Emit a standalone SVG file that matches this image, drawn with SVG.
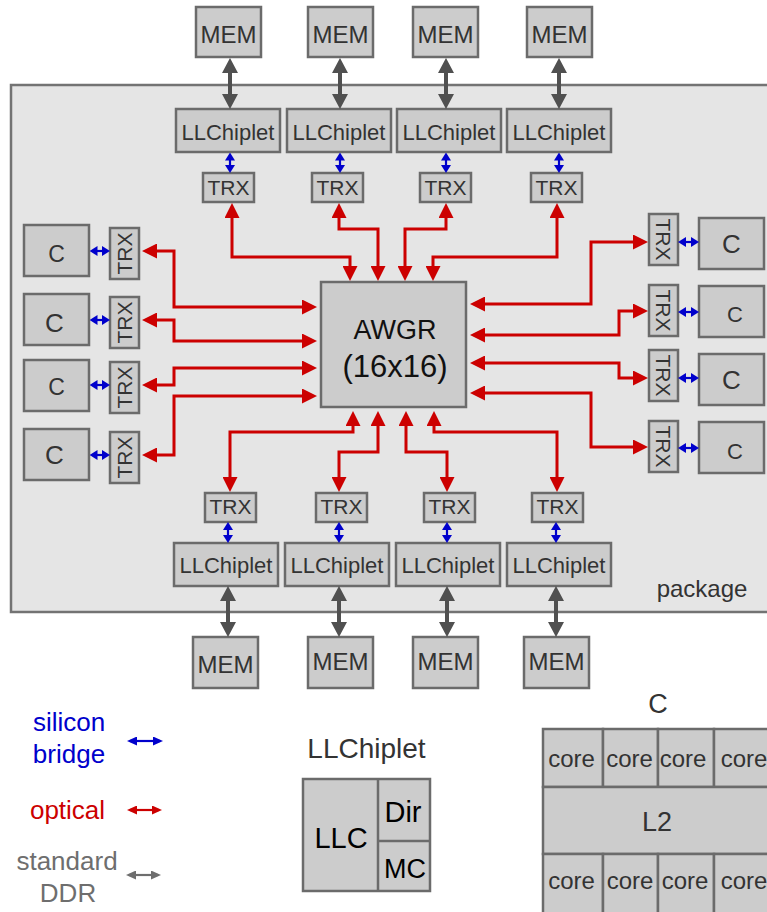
<svg xmlns="http://www.w3.org/2000/svg" width="767" height="912" viewBox="0 0 767 912">
<style>
.box{fill:#cccccc;stroke:#6b6b6b;stroke-width:2.5}
.pkg{fill:#e5e5e5;stroke:#737373;stroke-width:2.5}
text{font-family:"Liberation Sans",Arial,sans-serif;fill:#333;text-anchor:middle}
.t24{font-size:24px}.t22{font-size:22px}.t21{font-size:21px}
.red{fill:none;stroke:#cc0000;stroke-width:3;marker-start:url(#hr);marker-end:url(#hr)}
.gray{fill:none;stroke:#505050;stroke-width:4;marker-start:url(#hg);marker-end:url(#hg)}
.blue{fill:none;stroke:#0000cc;stroke-width:2.2;marker-start:url(#hb);marker-end:url(#hb)}
.lb{fill:none;stroke:#0000cc;stroke-width:2.2;marker-start:url(#lhb);marker-end:url(#lhb)}
.lr{fill:none;stroke:#cc0000;stroke-width:2.2;marker-start:url(#lhr);marker-end:url(#lhr)}
.lg{fill:none;stroke:#6e6e6e;stroke-width:2.2;marker-start:url(#lhg);marker-end:url(#lhg)}
</style>
<defs>
<marker id="hr" viewBox="0 0 15 15" refX="10" refY="7.5" markerWidth="15" markerHeight="15" markerUnits="userSpaceOnUse" orient="auto-start-reverse"><path d="M0,0 L15,7.5 L0,15 z" fill="#cc0000"/></marker>
<marker id="hg" viewBox="0 0 15 16" refX="9" refY="8" markerWidth="15" markerHeight="16" markerUnits="userSpaceOnUse" orient="auto-start-reverse"><path d="M0,0 L15,8 L0,16 z" fill="#505050"/></marker>
<marker id="hb" viewBox="0 0 8 10" refX="5" refY="5" markerWidth="8" markerHeight="10" markerUnits="userSpaceOnUse" orient="auto-start-reverse"><path d="M0,0 L8,5 L0,10 z" fill="#0000cc"/></marker>
<marker id="lhb" viewBox="0 0 10 9" refX="7" refY="4.5" markerWidth="10" markerHeight="9" markerUnits="userSpaceOnUse" orient="auto-start-reverse"><path d="M0,0 L10,4.5 L0,9 z" fill="#0000cc"/></marker>
<marker id="lhr" viewBox="0 0 10 9" refX="7" refY="4.5" markerWidth="10" markerHeight="9" markerUnits="userSpaceOnUse" orient="auto-start-reverse"><path d="M0,0 L10,4.5 L0,9 z" fill="#cc0000"/></marker>
<marker id="lhg" viewBox="0 0 10 9" refX="7" refY="4.5" markerWidth="10" markerHeight="9" markerUnits="userSpaceOnUse" orient="auto-start-reverse"><path d="M0,0 L10,4.5 L0,9 z" fill="#6e6e6e"/></marker>
</defs>

<g id="package">
<rect class="pkg" x="11" y="85" width="770" height="527"/>
<text x="702" y="597" style="font-size:24px">package</text>
</g>

<!-- top memory -->
<g id="mem-t1"><rect class="box" x="196" y="7" width="65" height="50"/><text class="t24" x="228.5" y="42.5">MEM</text></g>
<g id="mem-t2"><rect class="box" x="308" y="7" width="65" height="50"/><text class="t24" x="340.5" y="42.5">MEM</text></g>
<g id="mem-t3"><rect class="box" x="413" y="7" width="65" height="50"/><text class="t24" x="445.5" y="42.5">MEM</text></g>
<g id="mem-t4"><rect class="box" x="527" y="7" width="65" height="50"/><text class="t24" x="559.5" y="42.5">MEM</text></g>

<g id="llc-t1"><rect class="box" x="176" y="109" width="104" height="43"/><text class="t22" x="228" y="139.5">LLChiplet</text></g>
<g id="llc-t2"><rect class="box" x="287" y="109" width="104" height="43"/><text class="t22" x="339" y="139.5">LLChiplet</text></g>
<g id="llc-t3"><rect class="box" x="397" y="109" width="104" height="43"/><text class="t22" x="449" y="139.5">LLChiplet</text></g>
<g id="llc-t4"><rect class="box" x="507" y="109" width="104" height="43"/><text class="t22" x="559" y="139.5">LLChiplet</text></g>

<g id="trx-t1"><rect class="box" x="203" y="173" width="51" height="29"/><text class="t21" x="228.5" y="195">TRX</text></g>
<g id="trx-t2"><rect class="box" x="312" y="173" width="51" height="29"/><text class="t21" x="337.5" y="195">TRX</text></g>
<g id="trx-t3"><rect class="box" x="420" y="173" width="51" height="29"/><text class="t21" x="445.5" y="195">TRX</text></g>
<g id="trx-t4"><rect class="box" x="531" y="173" width="51" height="29"/><text class="t21" x="556.5" y="195">TRX</text></g>

<!-- bottom -->
<g id="trx-b1"><rect class="box" x="205" y="493" width="51" height="29"/><text class="t21" x="230.5" y="514">TRX</text></g>
<g id="trx-b2"><rect class="box" x="316" y="493" width="51" height="29"/><text class="t21" x="341.5" y="514">TRX</text></g>
<g id="trx-b3"><rect class="box" x="424" y="493" width="51" height="29"/><text class="t21" x="449.5" y="514">TRX</text></g>
<g id="trx-b4"><rect class="box" x="532" y="493" width="51" height="29"/><text class="t21" x="557.5" y="514">TRX</text></g>

<g id="llc-b1"><rect class="box" x="174" y="543" width="104" height="43"/><text class="t22" x="226" y="573">LLChiplet</text></g>
<g id="llc-b2"><rect class="box" x="285" y="543" width="104" height="43"/><text class="t22" x="337" y="573">LLChiplet</text></g>
<g id="llc-b3"><rect class="box" x="396" y="543" width="104" height="43"/><text class="t22" x="448" y="573">LLChiplet</text></g>
<g id="llc-b4"><rect class="box" x="507" y="543" width="104" height="43"/><text class="t22" x="559" y="573">LLChiplet</text></g>

<g id="mem-b1"><rect class="box" x="193" y="637" width="65" height="51"/><text class="t24" x="225.5" y="673">MEM</text></g>
<g id="mem-b2"><rect class="box" x="308" y="637" width="65" height="51"/><text class="t24" x="340.5" y="669.5">MEM</text></g>
<g id="mem-b3"><rect class="box" x="413" y="637" width="65" height="51"/><text class="t24" x="445.5" y="669.5">MEM</text></g>
<g id="mem-b4"><rect class="box" x="524" y="637" width="65" height="51"/><text class="t24" x="556.5" y="669.5">MEM</text></g>

<!-- left cores -->
<g id="c-l1"><rect class="box" x="24" y="225" width="65" height="51"/><text x="56.5" y="261.5" style="font-size:23px">C</text></g>
<g id="c-l2"><rect class="box" x="24" y="294" width="65" height="51"/><text x="54.5" y="331.5" style="font-size:26px">C</text></g>
<g id="c-l3"><rect class="box" x="24" y="360" width="65" height="51"/><text x="56.5" y="394.5" style="font-size:23px">C</text></g>
<g id="c-l4"><rect class="box" x="24" y="429" width="65" height="51"/><text x="54.5" y="464" style="font-size:26px">C</text></g>

<g id="trx-l1"><rect class="box" x="110" y="228" width="29" height="51"/><text class="t21" transform="translate(124.5,253.5) rotate(-90)" x="0" y="7.5">TRX</text></g>
<g id="trx-l2"><rect class="box" x="110" y="297" width="29" height="51"/><text class="t21" transform="translate(124.5,322.5) rotate(-90)" x="0" y="7.5">TRX</text></g>
<g id="trx-l3"><rect class="box" x="110" y="362" width="29" height="51"/><text class="t21" transform="translate(124.5,387.5) rotate(-90)" x="0" y="7.5">TRX</text></g>
<g id="trx-l4"><rect class="box" x="110" y="432" width="29" height="51"/><text class="t21" transform="translate(124.5,457.5) rotate(-90)" x="0" y="7.5">TRX</text></g>

<!-- right cores -->
<g id="trx-r1"><rect class="box" x="649" y="214" width="29" height="51"/><text class="t21" transform="translate(663.5,239.5) rotate(90)" x="0" y="7.5">TRX</text></g>
<g id="trx-r2"><rect class="box" x="649" y="285" width="29" height="51"/><text class="t21" transform="translate(663.5,310.5) rotate(90)" x="0" y="7.5">TRX</text></g>
<g id="trx-r3"><rect class="box" x="649" y="350" width="29" height="51"/><text class="t21" transform="translate(663.5,375.5) rotate(90)" x="0" y="7.5">TRX</text></g>
<g id="trx-r4"><rect class="box" x="649" y="421" width="29" height="51"/><text class="t21" transform="translate(663.5,446.5) rotate(90)" x="0" y="7.5">TRX</text></g>

<g id="c-r1"><rect class="box" x="699" y="218" width="65" height="51"/><text x="731.5" y="253" style="font-size:26px">C</text></g>
<g id="c-r2"><rect class="box" x="699" y="286" width="65" height="51"/><text x="735" y="322" style="font-size:22px">C</text></g>
<g id="c-r3"><rect class="box" x="699" y="354" width="65" height="51"/><text x="731.5" y="388.5" style="font-size:26px">C</text></g>
<g id="c-r4"><rect class="box" x="699" y="422" width="65" height="51"/><text x="735" y="459" style="font-size:22px">C</text></g>

<g id="awgr"><rect class="box" x="321" y="282" width="145" height="125"/>
<text x="395" y="339" style="font-size:27px;fill:#111">AWGR</text>
<text x="395" y="377" style="font-size:31px;fill:#111">(16x16)</text></g>

<g id="connectors">
<path class="gray" d="M230,64 V103"/>
<path class="gray" d="M340,64 V103"/>
<path class="gray" d="M446,64 V103"/>
<path class="gray" d="M559,64 V103"/>
<path class="gray" d="M228,592 V631"/>
<path class="gray" d="M339,592 V631"/>
<path class="gray" d="M447,592 V631"/>
<path class="gray" d="M556,592 V631"/>

<path class="blue" d="M230,155.5 V170"/>
<path class="blue" d="M340,155.5 V170"/>
<path class="blue" d="M446,155.5 V170"/>
<path class="blue" d="M559,155.5 V170"/>
<path class="blue" d="M228,525 V540"/>
<path class="blue" d="M339,525 V540"/>
<path class="blue" d="M447,525 V540"/>
<path class="blue" d="M556,525 V540"/>
<path class="blue" d="M92.5,251 H107"/>
<path class="blue" d="M92.5,320 H107"/>
<path class="blue" d="M92.5,385 H107"/>
<path class="blue" d="M92.5,455 H107"/>
<path class="blue" d="M681,242 H696"/>
<path class="blue" d="M681,312 H696"/>
<path class="blue" d="M681,378 H696"/>
<path class="blue" d="M681,448 H696"/>

<path class="red" d="M232,208 V257 H350 V276"/>
<path class="red" d="M339,208 V229 H378 V276"/>
<path class="red" d="M446,208 V229 H405 V276"/>
<path class="red" d="M557,208 V257 H433 V276"/>
<path class="red" d="M147,251 H174 V307 H312"/>
<path class="red" d="M147,320 H174 V341 H312"/>
<path class="red" d="M147,385 H174 V368 H312"/>
<path class="red" d="M147,455 H174 V396 H312"/>
<path class="red" d="M475,304 H591 V242 H643"/>
<path class="red" d="M475,335 H619 V311 H643"/>
<path class="red" d="M475,363 H619 V378 H643"/>
<path class="red" d="M475,393 H591 V447 H643"/>
<path class="red" d="M353,416 V432 H230 V487"/>
<path class="red" d="M378,416 V452 H339 V487"/>
<path class="red" d="M406,416 V452 H447 V487"/>
<path class="red" d="M434,416 V432 H557 V487"/>
</g>

<g id="legend">
<text x="69" y="731" style="font-size:26px;fill:#0000cc">silicon</text>
<text x="69" y="763" style="font-size:26px;fill:#0000cc">bridge</text>
<path class="lb" d="M130,741 H160"/>
<text x="67.5" y="819" style="font-size:26px;fill:#cc0000">optical</text>
<path class="lr" d="M130,810 H159"/>
<text x="67" y="870" style="font-size:26px;fill:#6e6e6e">standard</text>
<text x="68" y="902" style="font-size:26px;fill:#6e6e6e">DDR</text>
<path class="lg" d="M129,875 H158"/>
</g>

<g id="llchiplet-detail">
<text x="366.5" y="758" style="font-size:28px">LLChiplet</text>
<rect class="box" x="303" y="779" width="127" height="112"/>
<line x1="378" y1="779" x2="378" y2="891" stroke="#6b6b6b" stroke-width="2.5"/>
<line x1="378" y1="841" x2="430" y2="841" stroke="#6b6b6b" stroke-width="2.5"/>
<text x="341" y="848" style="font-size:29px;fill:#000">LLC</text>
<text x="403" y="822" style="font-size:29px;fill:#000">Dir</text>
<text x="405" y="878" style="font-size:27px;fill:#000">MC</text>
</g>

<g id="c-detail">
<text x="658" y="713" style="font-size:27px">C</text>
<rect class="box" x="543" y="729" width="60" height="58"/>
<rect class="box" x="603" y="729" width="55" height="58"/>
<rect class="box" x="658" y="729" width="56" height="58"/>
<rect class="box" x="714" y="729" width="58" height="58"/>
<rect class="box" x="543" y="787" width="229" height="67"/>
<rect class="box" x="543" y="854" width="60" height="60"/>
<rect class="box" x="603" y="854" width="55" height="60"/>
<rect class="box" x="658" y="854" width="56" height="60"/>
<rect class="box" x="714" y="854" width="58" height="60"/>
<text class="t24" x="571.5" y="767">core</text>
<text class="t24" x="629.5" y="767">core</text>
<text class="t24" x="683" y="767">core</text>
<text class="t24" x="744" y="767">core</text>
<text x="657" y="831" style="font-size:27px">L2</text>
<text class="t24" x="571.5" y="889">core</text>
<text class="t24" x="630" y="889">core</text>
<text class="t24" x="685" y="889">core</text>
<text class="t24" x="744" y="889">core</text>
</g>
</svg>
